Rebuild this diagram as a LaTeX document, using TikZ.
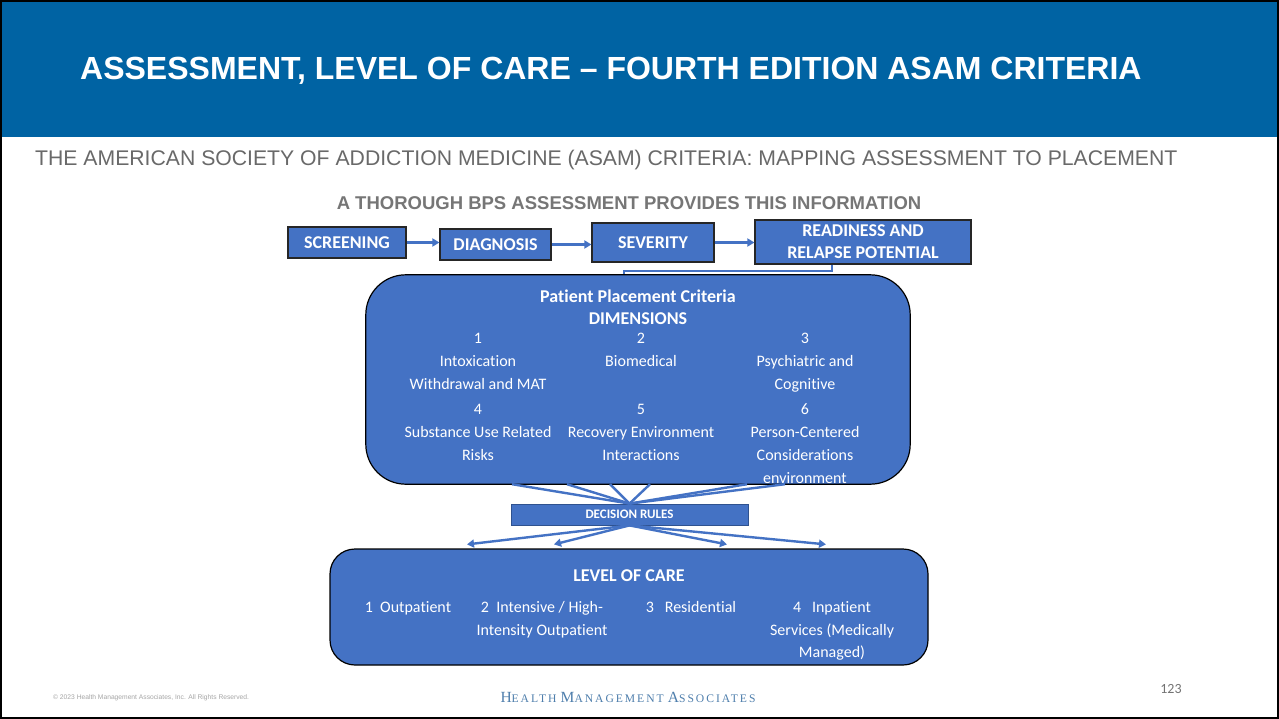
\documentclass[tikz,border=0pt]{standalone}
\usepackage{fontspec}
\setmainfont[Ligatures={TeX,NoCommon}]{Carlito}
\newfontfamily\arialfont{Liberation Sans}
\newfontfamily\hmafont[LetterSpace=17]{Liberation Serif}
\usepackage{tikz}
\usetikzlibrary{positioning}
\usetikzlibrary{arrows.meta}

\definecolor{bandblue}{RGB}{0,99,163}
\definecolor{boxblue}{RGB}{68,114,196}
\definecolor{boxedge}{RGB}{47,82,143}
\definecolor{subgray}{RGB}{105,105,105}
\definecolor{headgray}{RGB}{118,118,118}
\definecolor{hmablue}{RGB}{78,126,172}

\newcommand{\capword}[2]{{\fontsize{15.5}{16}\selectfont #1}{\fontsize{11.6}{13}\selectfont #2}}

\begin{document}
\begin{tikzpicture}[x=1pt, y=-1pt,
    stepbox/.style = {shape=rectangle, draw=black!85, line width=1.2pt, fill=boxblue, text=white, align=center, inner sep=0pt, font=\fontsize{18}{22}\bfseries\selectfont},
    bigbox/.style = {shape=rectangle, fill=boxblue, inner sep=0pt},
    dimtext/.style = {text=white, align=center, inner sep=0pt, anchor=base, font=\fontsize{16}{23}\selectfont},
    caretext/.style = {dimtext, font=\fontsize{16}{22.5}\selectfont},
    headtext/.style = {text=white, align=center, inner sep=0pt, anchor=base, font=\fontsize{18}{22}\bfseries\selectfont},
    flow/.style = {draw=boxblue, line width=2.4pt, -{Triangle[length=7pt,width=8pt]}},
    fan/.style = {draw=boxblue, line width=2.4pt},
    link/.style = {draw=white, double=boxblue, double distance=1.4pt, line width=0.8pt}
  ]

  \useasboundingbox (0,0) rectangle (1279,719);
  \fill[white] (0,0) rectangle (1279,719);

  % title band
  \fill[bandblue] (0,0) rectangle (1279,137);
  \node[anchor=base west, inner sep=0pt, text=white, font=\arialfont\fontsize{32}{36}\bfseries\selectfont] (title) at (80,80) {ASSESSMENT, LEVEL OF CARE – FOURTH EDITION ASAM CRITERIA};
  \node[anchor=base west, inner sep=0pt, text=subgray, font=\arialfont\fontsize{21.2}{24}\selectfont] (subtitle) at (35,166) {THE AMERICAN SOCIETY OF ADDICTION MEDICINE (ASAM) CRITERIA: MAPPING ASSESSMENT TO PLACEMENT};
  \node[anchor=base, inner sep=0pt, text=headgray, font=\arialfont\fontsize{18.5}{22}\bfseries\selectfont] (heading) at (629,209.5) {A THOROUGH BPS ASSESSMENT PROVIDES THIS INFORMATION};

  % assessment steps
  \node[stepbox, minimum width=118pt, minimum height=31pt] (screening) at (347,242.5) {SCREENING};
  \node[stepbox, minimum width=111pt, minimum height=31pt] (diagnosis) at (495.5,244.5) {DIAGNOSIS};
  \node[stepbox, minimum width=122pt, minimum height=39pt] (severity) at (653,242.5) {SEVERITY};
  \node[stepbox, minimum width=216pt, minimum height=44pt] (readiness) at (863,242) {READINESS AND\\RELAPSE POTENTIAL};

  \draw[flow] (screening.east) -- (screening.east -| diagnosis.west);
  \draw[flow] (diagnosis.east) -- (diagnosis.east -| severity.west);
  \draw[flow] (severity.east) -- (severity.east -| readiness.west);

  % dimensions (base = last line)
  \node[bigbox, minimum width=544pt, minimum height=209pt, rounded corners=40pt] (criteria) at (638,379.5) {};
  \draw[link] ([xshift=-31pt]readiness.south) -- ++(0,6.5) -| ([xshift=-14pt]criteria.north);
  \node[headtext] (crithead) at (638,324) {Patient Placement Criteria\\DIMENSIONS};
  \node[dimtext] (dimA) at (478,389) {1\\Intoxication\\Withdrawal and MAT};
  \node[dimtext] (dimB) at (641,366) {2\\Biomedical};
  \node[dimtext] (dimC) at (805,389) {3\\Psychiatric and\\Cognitive};
  \node[dimtext] (dimD) at (478,460) {4\\Substance Use Related\\Risks};
  \node[dimtext] (dimE) at (641,460) {5\\Recovery Environment\\Interactions};
  \node[dimtext] (dimF) at (805,483) {6\\Person-Centered\\Considerations\\environment};
  \draw[black, line width=1.2pt, rounded corners=40pt] (criteria.south west) rectangle (criteria.north east);

  % decision rules
  \node[shape=rectangle, draw=boxedge, line width=0.8pt, fill=boxblue, text=white, inner sep=0pt, minimum width=237pt, minimum height=21pt, font=\fontsize{13}{15}\bfseries\selectfont] (decision) at (629.5,514.5) {DECISION RULES};
  \foreach \dx in {-126,-71,-28,12,109,147}
    \draw[fan] ([xshift=\dx pt]criteria.south) -- (decision.north);

  % level of care
  \node[bigbox, draw=black, line width=1.2pt, minimum width=598pt, minimum height=116pt, rounded corners=25pt] (care) at (629,607) {};
  \foreach \dx in {-162,-75,98,197}
    \draw[flow] (decision.south) -- ([xshift=\dx pt, yshift=4pt]care.north);
  \node[headtext] (carehead) at (629,581) {LEVEL OF CARE};
  \node[caretext] (careA) at (408,612.5) {1\ \ Outpatient};
  \node[caretext] (careB) at (542,635) {2\ \ Intensive / High-\\Intensity Outpatient};
  \node[caretext] (careC) at (691,612.5) {3\ \ \ Residential};
  \node[caretext] (careD) at (832,657.5) {4\ \ \ Inpatient\\Services (Medically\\Managed)};

  % footer
  \node[anchor=base west, inner sep=0pt, text=black!35, font=\arialfont\fontsize{6.7}{8}\selectfont] (copyright) at (53,699.5) {\textcopyright{} 2023 Health Management Associates, Inc. All Rights Reserved.};
  \node[anchor=base, inner sep=0pt, text=hmablue, font=\hmafont] (hma) at (628,702) {\capword{H}{EALTH} \capword{M}{ANAGEMENT} \capword{A}{SSOCIATES}};
  \node[anchor=base, inner sep=0pt, text=black!55, font=\fontsize{14}{16}\selectfont] (pagenum) at (1171,693) {123};

  % slide frame
  \draw[black, line width=2pt] (1,1) rectangle (1278,718);
\end{tikzpicture}
\end{document}
